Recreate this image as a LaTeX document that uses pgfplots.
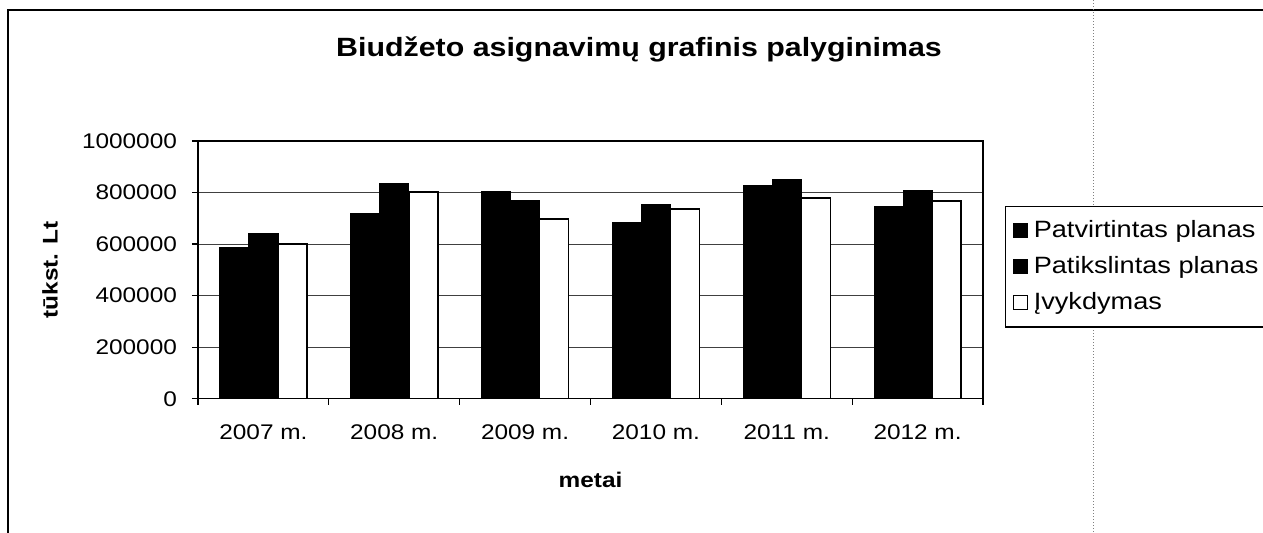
\documentclass[border=0pt]{standalone}
\usepackage{fontspec}
\setmainfont{Liberation Sans}[FakeStretch=1.15]
\usepackage{pgfplots}
\pgfplotsset{compat=1.18}
\pgfplotstableread{
x p1 p2 p3
0 587000 640000 600000
1 720000 836000 803000
2 806000 768000 697000
3 684000 753000 736000
4 829000 852000 780000
5 746000 807000 767000
}\datatable
\begin{document}
\begin{tikzpicture}
\path[use as bounding box] (0,0) rectangle (631.5pt,-266pt);
\clip (0,0) rectangle (631.5pt,-266pt);
\draw[line width=0.6pt] (4pt,-280pt) -- (4pt,-5pt) -- (650pt,-5pt);
\draw[gray, densely dotted, line width=0.5pt] (546.5pt,0pt) -- (546.5pt,-266pt);
\begin{axis}[
  at={(99pt,-199.35pt)}, anchor=south west,
  scale only axis, width=392.5pt, height=128.85pt,
  xmin=-0.5, xmax=5.5, ymin=0, ymax=1000000,
  xtick={-0.5,0.5,1.5,2.5,3.5,4.5,5.5},
  xticklabels={2007 m.,2008 m.,2009 m.,2010 m.,2011 m.,2012 m.,},
  xticklabel style={xshift=32.7pt, yshift=-6.5pt},
  ytick={0,200000,400000,600000,800000,1000000},
  scaled y ticks=false,
  yticklabel style={/pgf/number format/fixed, /pgf/number format/1000 sep={}, xshift=-4pt},
  /pgf/number format/assume math mode=true,
  tick label style={font=\fontsize{10.6}{12}\selectfont},
  tick align=outside, major tick length=3pt, xtick pos=bottom, ytick pos=left,
  tick style={black, line width=0.6pt},
  ymajorgrids, grid style={black!75, line width=0.4pt},
  axis line style={black, line width=0.6pt},
  title={Biudžeto asignavimų grafinis palyginimas},
  title style={at={(axis description cs:0.5618,1.3105)}, anchor=center, font=\bfseries\fontsize{13.2}{15}\selectfont},
  xlabel={metai},
  xlabel style={at={(axis description cs:0.5,-0.3143)}, anchor=center, font=\bfseries\fontsize{10.6}{12}\selectfont},
  ylabel={tūkst. Lt},
  ylabel style={at={(axis description cs:-0.1885,0.5)}, anchor=center, font=\bfseries\fontsize{10.6}{12}\selectfont},
  ybar, bar width=0.222,
  legend image code/.code={\draw[#1, draw=black, line width=0.6pt] (0pt,-3.5pt) rectangle (7pt,3.5pt);},
  legend style={at={(axis description cs:1.028,0.7478)}, anchor=north west,
    draw=black, line width=0.6pt, fill=white, inner xsep=3.5pt, inner ysep=5pt, row sep=4pt, column sep=1pt,
    font=\fontsize{11.8}{14}\selectfont, cells={anchor=west}},
]
\addplot[fill=black, draw=black, bar shift=-0.222] table[x=x, y=p1] {\datatable};
\addplot[fill=black, draw=black, bar shift=0] table[x=x, y=p2] {\datatable};
\addplot[fill=white, draw=black, line width=0.8pt, bar shift=0.222] table[x=x, y=p3] {\datatable};
\legend{Patvirtintas planas, Patikslintas planas, Įvykdymas}
\end{axis}
\end{tikzpicture}
\end{document}
